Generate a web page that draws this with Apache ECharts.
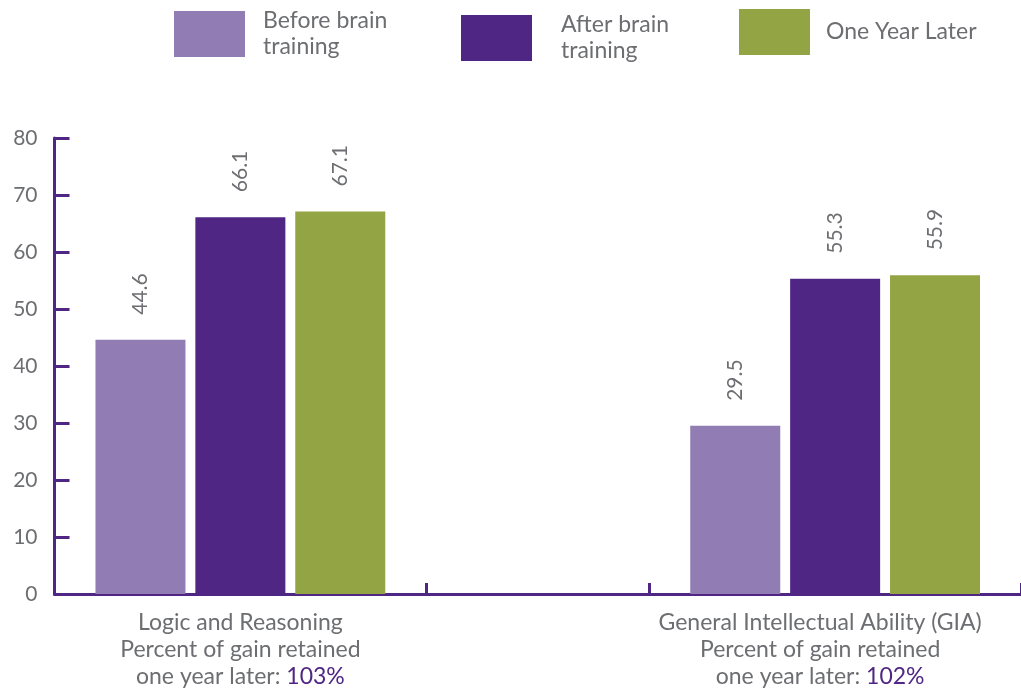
<!DOCTYPE html>
<html>
<head>
<meta charset="utf-8">
<script src="https://cdn.jsdelivr.net/npm/echarts@6/dist/echarts.min.js"></script>
<style>
  html, body { margin: 0; padding: 0; background: #fff; }
  #chart { width: 1021px; height: 690px; }
</style>
</head>
<body>
<div id="chart"></div>
<script>
// Test scores before training, right after, and one year later
const categories = ['Logic and Reasoning', 'General Intellectual Ability (GIA)'];
const retained = ['103%', '102%'];
const seriesNames = ['Before brain training', 'After brain training', 'One Year Later'];
const beforeValues = [44.6, 29.5];
const afterValues = [66.1, 55.3];
const laterValues = [67.1, 55.9];
const yTicks = [0, 10, 20, 30, 40, 50, 60, 70, 80];

// The x axis is laid out on 13 equal slots: the two groups sit on slots 2 and 10,
// and the divider ticks mark slot boundaries 5 and 8.
const SLOT_COUNT = 13;
const GROUP_SLOTS = [2, 10];
const DIVIDER_SLOTS = [5, 8];

const slots = Array.from({ length: SLOT_COUNT }, (_, i) => {
  const g = GROUP_SLOTS.indexOf(i);
  return g >= 0 ? categories[g] : 's' + i;
});
function toSlots(values) {
  const out = new Array(SLOT_COUNT).fill(null);
  GROUP_SLOTS.forEach((s, g) => { out[s] = values[g]; });
  return out;
}

const PURPLE = '#4f2683';
const LILAC = '#917db3';
const OLIVE = '#93a444';
const GREY = '#6d6e71';
const FONT = 'Lato';

const valueLabel = {
  show: true,
  position: 'top',
  rotate: 90,
  align: 'left',
  verticalAlign: 'middle',
  distance: 25,
  color: GREY,
  fontFamily: FONT,
  fontSize: 21
};

function makeLegend(name, left, top, gap) {
  return {
    data: [name],
    left: left,
    top: top,
    padding: 0,
    itemWidth: 71,
    itemHeight: 46,
    icon: 'rect',
    selectedMode: false,
    formatter: n => n.replace(' training', '\ntraining'),
    textStyle: {
      color: GREY,
      fontFamily: FONT,
      fontSize: 23,
      lineHeight: 26,
      padding: [0, 0, 0, gap]
    }
  };
}

const chart = echarts.init(document.getElementById('chart'), null, { renderer: 'canvas' });
chart.setOption({
  animation: false,
  color: [LILAC, PURPLE, OLIVE],
  legend: [
    makeLegend(seriesNames[0], 174, 8, 13),
    makeLegend(seriesNames[1], 461, 12, 24),
    makeLegend(seriesNames[2], 739, 9, 11)
  ],
  grid: { left: 54.5, top: 138, width: 969, height: 456, containLabel: false },
  xAxis: {
    type: 'category',
    data: slots,
    boundaryGap: true,
    axisLine: { show: true, lineStyle: { color: PURPLE, width: 3 } },
    axisTick: {
      show: true,
      inside: true,
      length: 11,
      interval: (index) => DIVIDER_SLOTS.indexOf(index) >= 0,
      lineStyle: { color: PURPLE, width: 3 }
    },
    axisLabel: {
      interval: (index) => GROUP_SLOTS.indexOf(index) >= 0,
      margin: 15,
      formatter: (value) => {
        const g = categories.indexOf(value);
        if (g < 0) return '';
        const sp = g === 1 ? '{sp|}' : '';
        return '{t|' + value + '}' + sp + '\n{t|Percent of gain retained}' + sp +
          '\n{t|one year later: }{p|' + retained[g] + '}' + sp;
      },
      rich: {
        t: { color: GREY, fontFamily: FONT, fontSize: 23, lineHeight: 27 },
        p: { color: PURPLE, fontFamily: FONT, fontSize: 23, lineHeight: 27 },
        sp: { width: 30, lineHeight: 27 }
      }
    },
    splitLine: { show: false }
  },
  yAxis: {
    type: 'value',
    min: yTicks[0],
    max: yTicks[yTicks.length - 1],
    interval: yTicks[1] - yTicks[0],
    axisLine: { show: true, lineStyle: { color: PURPLE, width: 3 } },
    axisTick: { show: true, inside: true, length: 15, lineStyle: { color: PURPLE, width: 3 } },
    axisLabel: { color: GREY, fontFamily: FONT, fontSize: 21, margin: 17 },
    splitLine: { show: false }
  },
  series: [
    { name: seriesNames[0], type: 'bar', data: toSlots(beforeValues), barWidth: 90, barGap: '11%', label: valueLabel },
    { name: seriesNames[1], type: 'bar', data: toSlots(afterValues), barWidth: 90, barGap: '11%', label: valueLabel },
    { name: seriesNames[2], type: 'bar', data: toSlots(laterValues), barWidth: 90, barGap: '11%', label: valueLabel }
  ]
});
</script>
</body>
</html>
